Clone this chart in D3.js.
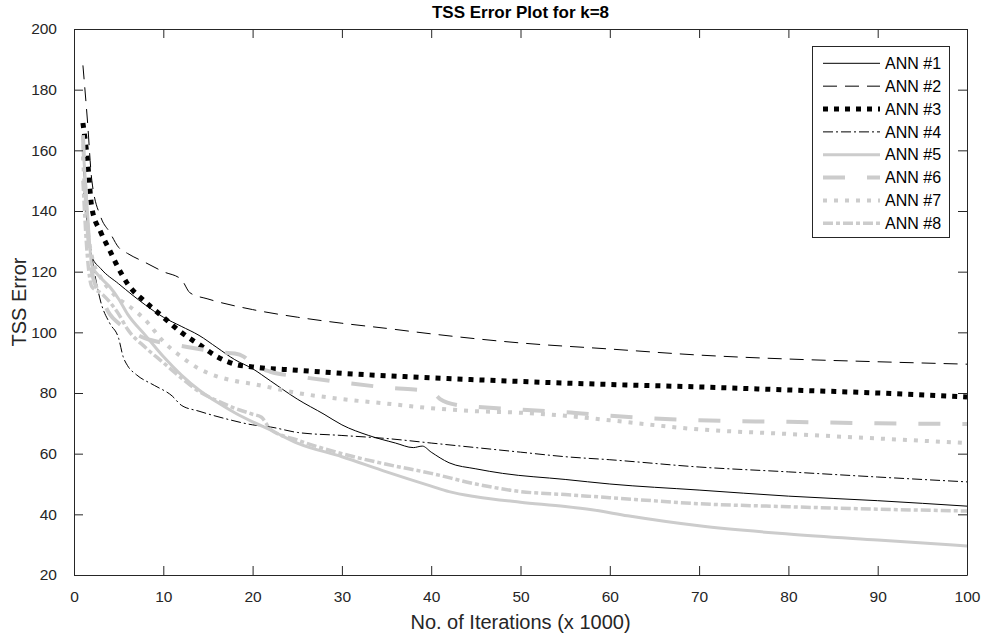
<!DOCTYPE html>
<html>
<head>
<meta charset="utf-8">
<script src="https://cdn.jsdelivr.net/npm/d3@7"></script>
<style>
  body { margin: 0; background: #fff; }
  text { font-family: "Liberation Sans", Arial, sans-serif; }
</style>
</head>
<body>
<div id="chart"></div>
<script>
// TSS error curves, k=8

// series names and values ([iterations x1000, error])
let names = ["ANN #1", "ANN #2", "ANN #3", "ANN #4", "ANN #5", "ANN #6", "ANN #7", "ANN #8"];

let ann1 = [[1,160],[1.5,135],[2,125],[3,121],[5,116],[8,109],[10,105],[12,102],[14,99],[16,95],[18,91],[20,88],[22,84],[25,78],[28,73],[30,69.5],[33,66],[36,63.5],[38,62],[39,62.5],[40,60.5],[42,57],[45,55],[48,53.5],[55,51.5],[60,50],[70,48],[80,46],[90,44.5],[100,42.7]];
let ann2 = [[1,188],[1.5,170],[2,150],[3,138],[4,133],[5,128],[6,126],[8,123],[10,120],[12,117.5],[13,113],[15,111],[20,107.5],[25,105],[30,103],[35,101.3],[40,99.5],[50,96.5],[60,94.5],[70,92.5],[80,91.2],[90,90.3],[100,89.5]];
let ann3 = [[1,169],[1.5,157],[2,141],[3,133],[4,127],[5,121],[6,116],[8,110],[10,105],[12,100],[14,96],[16,92],[18,89.5],[20,88.6],[25,87.5],[30,86.5],[40,85],[50,83.8],[60,82.8],[70,82],[80,81],[90,80],[100,78.7]];
let ann4 = [[1,148],[2,125],[3,110],[4,103],[5,98],[5.5,92],[6,89],[7,86],[9,82.5],[11,79],[12,76],[14,74],[17,71.5],[20,69.5],[22,68.8],[25,67],[30,66],[35,65],[40,63.5],[45,62],[50,60.5],[55,59],[60,58],[70,55.6],[80,54],[90,52.3],[100,50.7]];
let ann5 = [[1,162],[1.5,140],[2,122],[3,118],[4,115],[5,111],[6,106],[8,99],[10,92],[12,86],[14,81],[16,77],[18,73.5],[20,70.5],[22,67.8],[25,63.5],[30,59],[35,54],[40,49.3],[42,47.5],[45,45.8],[50,44],[55,42.6],[58,41.5],[62,39.5],[70,36.2],[80,33.5],[90,31.5],[100,29.6]];
let ann6 = [[1,165],[1.5,135],[2,120],[3,112],[4,106],[5,103],[6,101],[8,98],[10,96.5],[12,95.5],[14,94.5],[16,93.5],[18,93],[19,92],[20,89.5],[22,87],[25,85.5],[30,83.5],[35,81.8],[40,80.5],[41,78],[43,76],[45,75.5],[50,74.5],[55,73.7],[60,72.5],[70,71],[80,70.5],[90,70],[100,69.8]];
let ann7 = [[1,158],[1.5,135],[2,125],[3,118],[4,114],[5,111],[6,109],[8,104],[10,97],[12,92],[14,88],[16,85.5],[18,84],[20,83],[25,80],[30,78],[35,76.5],[40,75],[45,74],[50,73.5],[55,72.5],[60,71],[70,68],[80,66.5],[90,65],[100,63.5]];
let ann8 = [[1,150],[1.5,125],[2,115],[3,113],[4,110],[5,106],[6,101],[8,95],[10,90],[12,85],[14,80.5],[16,77.5],[18,75],[20,73],[21,72],[22,68],[25,64.5],[30,60],[35,56.5],[40,53.5],[45,50],[50,47.5],[55,46.5],[60,45.5],[70,43.5],[80,42.5],[90,41.7],[100,41.1]];

let allSeries = [ann1, ann2, ann3, ann4, ann5, ann6, ann7, ann8];

let xTicks = [0, 10, 20, 30, 40, 50, 60, 70, 80, 90, 100];
let yTicks = [20, 40, 60, 80, 100, 120, 140, 160, 180, 200];

// line styles, matlab-ish
let styles = [
  {color: "#000", width: 1, dash: null},
  {color: "#000", width: 1, dash: "14,8"},
  {color: "#000", width: 5, dash: "5,6"},
  {color: "#000", width: 1, dash: "10,3,2,3"},
  {color: "#cccccc", width: 3, dash: null},
  {color: "#cccccc", width: 4, dash: "22,22"},
  {color: "#cccccc", width: 4, dash: "4,7"},
  {color: "#cccccc", width: 3.5, dash: "10,3,4,3"}
];

let W = 986, H = 638;
let margin = {top: 29, right: 19, bottom: 63, left: 74};
let w = W - margin.left - margin.right;
let h = H - margin.top - margin.bottom;
let axisColor = "#262626";

let svg = d3.select("#chart").append("svg")
  .attr("width", W)
  .attr("height", H);

let g = svg.append("g")
  .attr("transform", "translate(" + margin.left + "," + margin.top + ")");

let x = d3.scaleLinear().domain([0, 100]).range([0, w]);
let y = d3.scaleLinear().domain([20, 200]).range([h, 0]);

// curves
let line = d3.line()
  .x(d => x(d[0]))
  .y(d => y(d[1]))
  .curve(d3.curveMonotoneX);

allSeries.forEach(function(s, i) {
  g.append("path")
    .datum(s)
    .attr("fill", "none")
    .attr("stroke", styles[i].color)
    .attr("stroke-width", styles[i].width)
    .attr("stroke-dasharray", styles[i].dash)
    .attr("d", line);
});

// axes, ticks pointing in, mirrored on top/right
let tl = 9;
g.append("g")
  .attr("transform", "translate(0," + h + ")")
  .call(d3.axisBottom(x).tickValues(xTicks).tickSizeInner(-tl).tickSizeOuter(0).tickPadding(16));
g.append("g")
  .call(d3.axisTop(x).tickValues(xTicks).tickSizeInner(-tl).tickSizeOuter(0).tickFormat(""));
g.append("g")
  .call(d3.axisLeft(y).tickValues(yTicks).tickSizeInner(-tl).tickSizeOuter(0).tickPadding(17));
g.append("g")
  .attr("transform", "translate(" + w + ",0)")
  .call(d3.axisRight(y).tickValues(yTicks).tickSizeInner(-tl).tickSizeOuter(0).tickFormat(""));

g.selectAll(".domain").attr("stroke", axisColor);
g.selectAll(".tick line").attr("stroke", axisColor);
g.selectAll(".tick text")
  .attr("fill", axisColor)
  .style("font-size", "15.5px")
  .style("font-family", "'Liberation Sans', Arial, sans-serif");

// labels
svg.append("text")
  .attr("x", margin.left + w / 2)
  .attr("y", 18)
  .attr("text-anchor", "middle")
  .style("font-size", "17px")
  .style("font-weight", "bold")
  .attr("fill", "#000")
  .text("TSS Error Plot for k=8");

svg.append("text")
  .attr("x", margin.left + w / 2)
  .attr("y", 629)
  .attr("text-anchor", "middle")
  .style("font-size", "20px")
  .attr("fill", axisColor)
  .text("No. of Iterations (x 1000)");

svg.append("text")
  .attr("transform", "translate(26," + (margin.top + h / 2) + ") rotate(-90)")
  .attr("text-anchor", "middle")
  .style("font-size", "20px")
  .attr("fill", axisColor)
  .text("TSS Error");

// legend
let lx = 812, ly = 46, lw = 137, lh = 191, step = 22.86;
let legend = svg.append("g");
legend.append("rect")
  .attr("x", lx + 0.5)
  .attr("y", ly + 0.5)
  .attr("width", lw)
  .attr("height", lh)
  .attr("fill", "#fff")
  .attr("stroke", axisColor)
  .attr("stroke-width", 1);

names.forEach(function(name, i) {
  let yy = 63.3 + i * step;
  legend.append("line")
    .attr("x1", 823).attr("x2", 880)
    .attr("y1", yy).attr("y2", yy)
    .attr("stroke", styles[i].color)
    .attr("stroke-width", styles[i].width)
    .attr("stroke-dasharray", styles[i].dash);
  legend.append("text")
    .attr("x", 885)
    .attr("y", yy + 5.7)
    .style("font-size", "16px")
    .attr("fill", "#000")
    .text(name);
});
</script>
</body>
</html>
